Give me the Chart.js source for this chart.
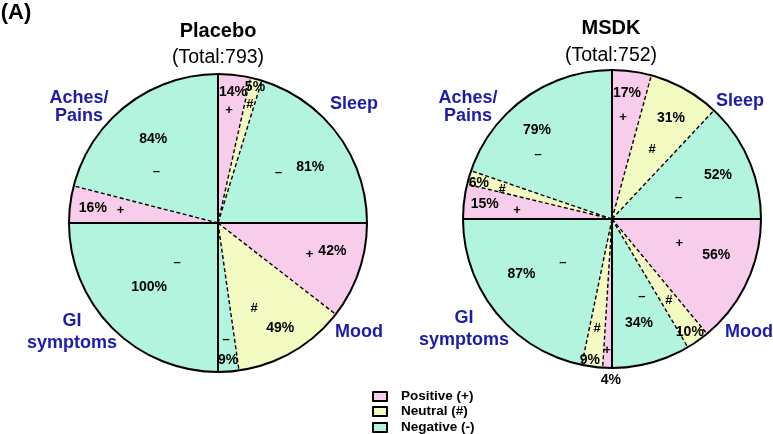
<!DOCTYPE html>
<html>
<head>
<meta charset="utf-8">
<script src="https://cdn.jsdelivr.net/npm/chart.js@4.4.0/dist/chart.umd.min.js"></script>
<style>
  html, body { margin: 0; padding: 0; background: #fff; }
  #wrap { position: relative; width: 773px; height: 434px; overflow: hidden; font-family: "Liberation Sans", Arial, sans-serif; }
  canvas { position: absolute; top: 0; }
  .t { position: absolute; transform: translate(-50%, -50%); white-space: nowrap; line-height: 1; }
  .ttl { font-weight: bold; font-size: 20px; color: #000; }
  .sub { font-size: 19.5px; color: #000; }
  .cat { font-weight: bold; font-size: 18px; color: #1c1ca8; text-align: center; }
  .lg { position: absolute; left: 372px; font-weight: bold; font-size: 13.5px; line-height: 1; }
  .lg span { position: absolute; left: 0; top: 0; width: 12px; height: 7px; border: 2px solid #000; border-radius: 1px; }
  .lg b { position: absolute; left: 29px; top: -2px; white-space: nowrap; }
</style>
</head>
<body>
<div id="wrap">
  <canvas id="placebo" width="390" height="434" style="left:0"></canvas>
  <canvas id="msdk" width="383" height="434" style="left:390px"></canvas>

  <div class="t ttl" style="left:16px;top:12px;font-size:22px">(A)</div>
  <div class="t ttl" id="ttl1" style="left:218px;top:30px"></div>
  <div class="t sub" id="sub1" style="left:218px;top:57px"></div>
  <div class="t ttl" id="ttl2" style="left:611px;top:27px"></div>
  <div class="t sub" id="sub2" style="left:611px;top:55px"></div>

  <div class="t cat" style="left:79px;top:106px;line-height:18px">Aches/<br>Pains</div>
  <div class="t cat" style="left:354px;top:103px">Sleep</div>
  <div class="t cat" style="left:72px;top:331px;line-height:22px">GI<br>symptoms</div>
  <div class="t cat" style="left:359px;top:331px">Mood</div>

  <div class="t cat" style="left:468px;top:106px;line-height:18px">Aches/<br>Pains</div>
  <div class="t cat" style="left:740px;top:100px">Sleep</div>
  <div class="t cat" style="left:464px;top:328px;line-height:22px">GI<br>symptoms</div>
  <div class="t cat" style="left:749px;top:331px">Mood</div>

  <div class="lg" style="top:391px"><span style="background:#f8cdeb"></span><b id="lg0"></b></div>
  <div class="lg" style="top:406px"><span style="background:#f4fbc2"></span><b id="lg1"></b></div>
  <div class="lg" style="top:422px"><span style="background:#b3f4df"></span><b id="lg2"></b></div>
</div>

<script>
// quadrants, clockwise from 12 o'clock
const categories = ['Sleep', 'Mood', 'GI symptoms', 'Aches/Pains'];
const responses = ['Positive (+)', 'Neutral (#)', 'Negative (-)'];
const symbols = ['+', '#', '\u2013'];

const placeboPositive = [14, 42, 0, 16];
const placeboNeutral  = [5, 49, 0, 0];
const placeboNegative = [81, 9, 100, 84];
const placeboTotal = 793;

const msdkPositive = [17, 56, 4, 15];
const msdkNeutral  = [31, 10, 9, 6];
const msdkNegative = [52, 34, 87, 79];
const msdkTotal = 752;

const colores = ['#f8cdeb', '#f4fbc2', '#b3f4df'];

// label placement: [pct angle offset deg, pct radius frac, symbol angle offset deg, symbol radius frac]
const placeboLabelPos = [
  [0.2, 0.886, -0.7, 0.76], [0.35, 0.946, 0.15, 0.826], [5.1, 0.725, -3.5, 0.53],
  [-5.2, 0.79, 0.1, 0.65], [-0.45, 0.82, 7.1, 0.62], [-0.15, 0.92, 0, 0.78],
  [0, 0, 0, 0], [0, 0, 0, 0], [2.2, 0.63, 1.4, 0.38],
  [-0.4, 0.846, 0.4, 0.66], [0, 0, 0, 0], [0.1, 0.71, -12.3, 0.54]
];
const msdkLabelPos = [
  [-0.85, 0.85, -1.45, 0.685], [1.05, 0.785, 0.75, 0.54], [0.9, 0.77, 5.2, 0.47],
  [-6.2, 0.74, -5.2, 0.48], [0.5, 0.92, 0, 0.665], [0.7, 0.72, -5.7, 0.56],
  [-1.4, 1.08, 0.4, 0.88], [1.25, 0.96, 0.15, 0.74], [8.05, 0.71, -2.15, 0.44],
  [-0.05, 0.86, -1.35, 0.64], [-1.1, 0.926, -0.9, 0.765], [-4.65, 0.78, -13.25, 0.66]
];

const aplanar = (pos, neu, neg) => {
  const out = [];
  categories.forEach((c, i) => { out.push(pos[i], neu[i], neg[i]); });
  return out;
};

const lineasYEtiquetas = {
  id: 'lineasYEtiquetas',
  afterDatasetsDraw(chart, args, opts) {
    const ctx = chart.ctx;
    const meta = chart.getDatasetMeta(0);
    const valores = chart.data.datasets[0].data;
    const arcs = meta.data;
    const cx = arcs[0].x, cy = arcs[0].y, r = arcs[0].outerRadius;
    ctx.save();
    // dashed lines between responses inside a quadrant
    ctx.strokeStyle = '#000';
    ctx.lineWidth = 1.4;
    ctx.setLineDash([4, 2.5]);
    arcs.forEach((a, i) => {
      if (i % 3 === 0 || valores[i] === 0) return;
      let prev = false;
      for (let k = i - (i % 3); k < i; k++) if (valores[k] > 0) prev = true;
      if (!prev) return;
      ctx.beginPath();
      ctx.moveTo(cx, cy);
      ctx.lineTo(cx + r * Math.cos(a.startAngle), cy + r * Math.sin(a.startAngle));
      ctx.stroke();
    });
    // solid quadrant lines + outline
    ctx.setLineDash([]);
    ctx.lineWidth = 2;
    arcs.forEach((a, i) => {
      if (i % 3 !== 0) return;
      ctx.beginPath();
      ctx.moveTo(cx, cy);
      ctx.lineTo(cx + r * Math.cos(a.startAngle), cy + r * Math.sin(a.startAngle));
      ctx.stroke();
    });
    ctx.beginPath();
    ctx.arc(cx, cy, r, 0, Math.PI * 2);
    ctx.stroke();
    // percentages and symbols
    ctx.fillStyle = '#000';
    ctx.textAlign = 'center';
    ctx.textBaseline = 'middle';
    arcs.forEach((a, i) => {
      if (valores[i] === 0) return;
      const p = opts.pos[i];
      const mid = (a.startAngle + a.endAngle) / 2;
      const ap = mid + p[0] * Math.PI / 180;
      const as = mid + p[2] * Math.PI / 180;
      ctx.font = 'bold 14px "Liberation Sans", Arial, sans-serif';
      ctx.fillText(valores[i] + '%', cx + p[1] * r * Math.cos(ap), cy + p[1] * r * Math.sin(ap));
      ctx.font = 'bold 13px "Liberation Sans", Arial, sans-serif';
      ctx.fillText(symbols[i % 3], cx + p[3] * r * Math.cos(as), cy + p[3] * r * Math.sin(as));
    });
    ctx.restore();
  }
};

const crearPastel = (id, datos, padding, pos) => {
  const ctx = document.getElementById(id).getContext('2d');
  return new Chart(ctx, {
    type: 'pie',
    data: {
      labels: categories.flatMap(c => responses.map(rp => c + ' ' + rp)),
      datasets: [{
        data: datos,
        backgroundColor: datos.map((v, i) => colores[i % 3]),
        borderWidth: 0
      }]
    },
    options: {
      responsive: false,
      animation: false,
      events: [],
      layout: { padding: padding },
      plugins: {
        legend: { display: false },
        tooltip: { enabled: false },
        lineasYEtiquetas: { pos: pos }
      }
    },
    plugins: [lineasYEtiquetas]
  });
};

crearPastel('placebo', aplanar(placeboPositive, placeboNeutral, placeboNegative),
  { left: 69, right: 23, top: 74, bottom: 62 }, placeboLabelPos);
crearPastel('msdk', aplanar(msdkPositive, msdkNeutral, msdkNegative),
  { left: 73, right: 12, top: 70, bottom: 66 }, msdkLabelPos);

document.getElementById('ttl1').textContent = 'Placebo';
document.getElementById('sub1').textContent = '(Total:' + placeboTotal + ')';
document.getElementById('ttl2').textContent = 'MSDK';
document.getElementById('sub2').textContent = '(Total:' + msdkTotal + ')';
responses.forEach((r, i) => { document.getElementById('lg' + i).textContent = r; });
</script>
</body>
</html>
